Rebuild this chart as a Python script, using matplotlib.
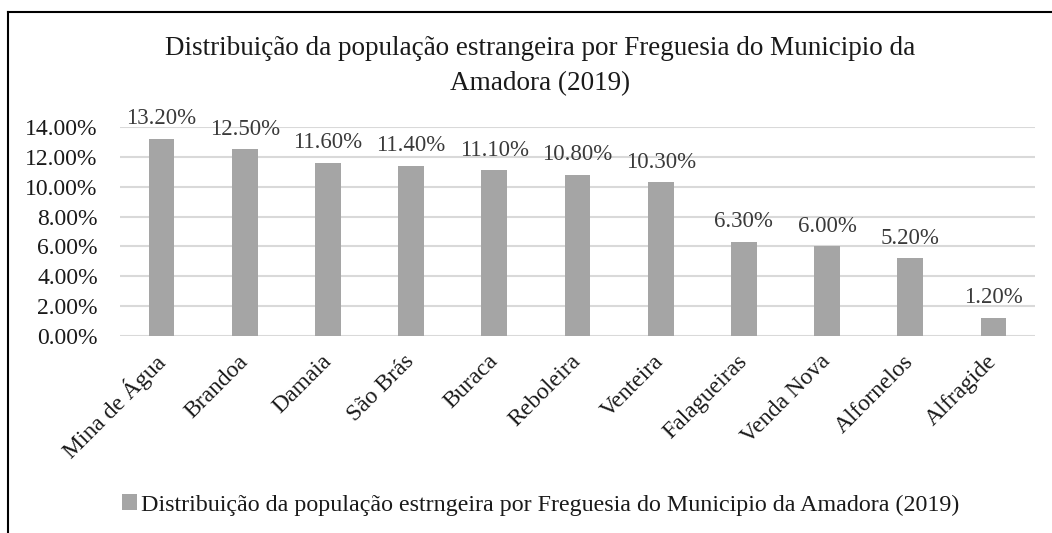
import numpy as np
import matplotlib.pyplot as plt
from matplotlib.lines import Line2D

# freguesias and share of foreign population (%)
freguesias = ['Mina de Água', 'Brandoa', 'Damaia', 'São Brás', 'Buraca', 'Reboleira',
              'Venteira', 'Falagueiras', 'Venda Nova', 'Alfornelos', 'Alfragide']
valores = [13.2, 12.5, 11.6, 11.4, 11.1, 10.8, 10.3, 6.3, 6.0, 5.2, 1.2]
yticks = [0, 2, 4, 6, 8, 10, 12, 14]

titulo = 'Distribuição da população estrangeira por Freguesia do Municipio da\nAmadora (2019)'
legenda = 'Distribuição da população estrngeira por Freguesia do Municipio da Amadora (2019)'

plt.rcParams['font.family'] = ['Liberation Serif', 'DejaVu Serif']
txt = '#1a1a1a'

W, H = 1052, 533
fig = plt.figure(figsize=(W / 100, H / 100), dpi=100)
ax = fig.add_axes([120 / W, 1 - 336 / H, (1035 - 120) / W, (336 - 127) / H])

x = np.arange(len(freguesias))
bars = ax.bar(x, valores, width=0.31, color='#A5A5A5', zorder=3,
              label=legenda)

ax.set_ylim(0, 14)
ax.set_xlim(-0.5, len(freguesias) - 0.5)
ax.set_yticks(yticks)
ax.set_yticklabels(['%.2f%%' % v for v in yticks], fontsize=17, color=txt)
ax.yaxis.grid(True, color='#D9D9D9', linewidth=1.5, zorder=0)
ax.tick_params(axis='both', length=0)
ax.tick_params(axis='y', pad=16)
for s in ax.spines.values():
    s.set_visible(False)

ax.set_xticks(x)
ax.set_xticklabels(freguesias, rotation=45, ha='right', va='center',
                   rotation_mode='anchor', fontsize=17, color=txt)
ax.tick_params(axis='x', pad=16)

# value labels above bars
for xi, v in zip(x, valores):
    ax.annotate('%.2f%%' % v, (xi, v), xytext=(0, 7), textcoords='offset points',
                ha='center', va='bottom', fontsize=16.5, color='#3a3a3a')

fig.text(540 / W, 1 - 66 / H, titulo, ha='center', va='center', fontsize=19.5,
         color=txt, linespacing=1.55)

fig.legend(handles=[bars], labels=[legenda], loc='center', bbox_to_anchor=(541 / W, 1 - 505 / H),
           frameon=False, fontsize=17.3, handlelength=0.6, handleheight=0.6,
           handletextpad=0.2, labelcolor=txt)

# chart border (top and left only, rest is cropped)
fig.add_artist(Line2D([8 / W, 1], [1 - 12 / H, 1 - 12 / H], color='black', linewidth=1.5,
                      transform=fig.transFigure))
fig.add_artist(Line2D([8 / W, 8 / W], [1 - 12 / H, 0], color='black', linewidth=1.5,
                      transform=fig.transFigure))

fig.savefig('out.png', dpi=100)
